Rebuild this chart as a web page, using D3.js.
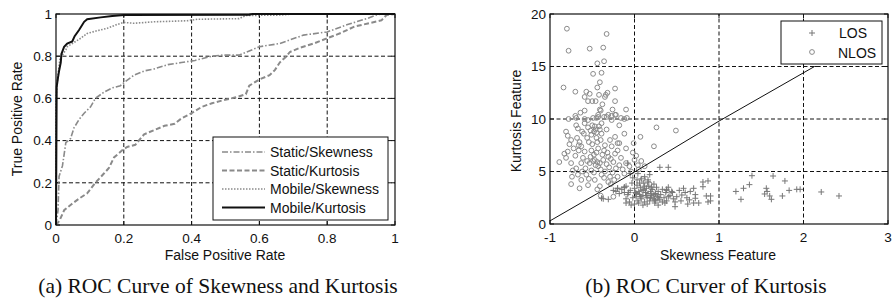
<!DOCTYPE html>
<html>
<head>
<meta charset="utf-8">
<title>ROC and feature scatter</title>
<script src="https://cdn.jsdelivr.net/npm/d3@7"></script>
<style>
  body { margin: 0; background: #fff; }
  svg { display: block; }
  .tick-label { font-family: "Liberation Sans", Arial, sans-serif; font-size: 13.5px; fill: #111; }
  .axis-title { font-family: "Liberation Sans", Arial, sans-serif; font-size: 14px; fill: #111; }
  .legend-text { font-family: "Liberation Sans", Arial, sans-serif; font-size: 14px; fill: #111; }
  .caption { font-family: "Liberation Serif", "Times New Roman", serif; font-size: 21.5px; fill: #111; }
</style>
</head>
<body>
<script>
// ---- data ----

// (a) ROC curves, [false positive rate, true positive rate]
var staticSkewness = [[0,0],[0.006,0.07],[0.009,0.23],[0.019,0.28],[0.029,0.39],[0.043,0.41],[0.053,0.46],
  [0.068,0.50],[0.083,0.53],[0.102,0.56],[0.116,0.60],[0.142,0.63],[0.166,0.65],[0.19,0.66],[0.205,0.68],
  [0.23,0.71],[0.26,0.73],[0.29,0.74],[0.33,0.76],[0.37,0.77],[0.41,0.78],[0.46,0.80],[0.49,0.805],
  [0.54,0.805],[0.60,0.845],[0.66,0.86],[0.73,0.90],[0.80,0.915],[0.86,0.95],[0.92,0.98],[0.945,0.995],[0.96,1],[1,1]];
var staticKurtosis = [[0,0],[0.01,0.02],[0.024,0.07],[0.043,0.095],[0.068,0.125],[0.092,0.15],[0.116,0.20],
  [0.142,0.245],[0.156,0.27],[0.171,0.32],[0.196,0.355],[0.21,0.37],[0.234,0.38],[0.26,0.43],[0.29,0.45],
  [0.32,0.47],[0.35,0.48],[0.37,0.505],[0.40,0.53],[0.43,0.56],[0.46,0.577],[0.49,0.59],[0.53,0.605],
  [0.56,0.62],[0.57,0.66],[0.60,0.69],[0.63,0.71],[0.646,0.735],[0.66,0.77],[0.68,0.80],[0.69,0.82],
  [0.72,0.84],[0.76,0.86],[0.80,0.885],[0.84,0.91],[0.88,0.94],[0.92,0.955],[0.96,0.97],[0.975,0.995],[1,1]];
var mobileSkewness = [[0,0],[0,0.6],[0.005,0.7],[0.012,0.79],[0.029,0.83],[0.033,0.845],[0.058,0.87],
  [0.073,0.885],[0.092,0.908],[0.122,0.921],[0.151,0.932],[0.176,0.948],[0.2,0.96],[0.23,0.956],
  [0.289,0.963],[0.387,0.968],[0.417,0.975],[0.54,0.978],[0.56,0.993],[0.66,0.995],[0.7,1],[1,1]];
var mobileKurtosis = [[0,0],[0.002,0.655],[0.006,0.70],[0.009,0.73],[0.014,0.77],[0.016,0.81],[0.024,0.845],
  [0.033,0.86],[0.048,0.87],[0.055,0.895],[0.068,0.924],[0.083,0.963],[0.092,0.975],[0.132,0.984],
  [0.166,0.99],[0.2,0.995],[0.57,0.997],[0.58,1],[1,1]];

var rocNames = ["Static/Skewness", "Static/Kurtosis", "Mobile/Skewness", "Mobile/Kurtosis"];
var rocTicks = [0, 0.2, 0.4, 0.6, 0.8, 1];

// (b) feature scatter, [skewness, kurtosis]
var nlosPoints = [[-0.80,18.6],[-0.33,18.1],[-0.78,16.5],[-0.53,16.7],[-0.37,16.8],[-0.44,15.3],[-0.36,15.5],
  [-0.49,14.3],[-0.39,14.4],[-0.41,13.5],[-0.84,13.0],[-0.70,12.6],[-0.44,13.0],[-0.57,12.6],[-0.53,12.4],
  [-0.32,12.5],[-0.34,12.3],[-0.35,12.1],[-0.23,12.9],[-0.59,12.1],[-0.55,11.7],[-0.50,11.7],[-0.46,11.7],
  [-0.42,12.3],[-0.38,11.4],[-0.23,11.7],[-0.64,10.6],[-0.59,10.8],[-0.41,10.9],[-0.40,10.8],[-0.26,10.9],
  [-0.10,10.9],[-0.22,10.4],[-0.31,10.4],[-0.70,10.3],[-0.69,10.1],[-0.78,10.0],[-0.59,10.0],[-0.45,10.1],
  [-0.43,10.2],[-0.36,10.2],[-0.27,10.3],[-0.16,10.1],[-0.09,10.1],[-0.69,9.4],[-0.67,9.1],[-0.59,9.6],
  [-0.55,9.9],[-0.49,10.1],[-0.43,10.4],[-0.39,9.6],[-0.33,10.2],[-0.27,9.9],[-0.23,10.4],[-0.18,9.4],
  [-0.12,10.0],[0.26,9.2],[0.49,8.9],[-0.81,8.8],[-0.79,8.4],[-0.75,8.0],[-0.77,7.6],[-0.65,7.8],[-0.66,7.5],
  [-0.63,7.4],[-0.60,8.6],[-0.51,8.5],[-0.45,8.2],[-0.39,8.6],[-0.33,9.0],[-0.29,8.0],[-0.23,8.3],[-0.18,7.7],
  [-0.12,8.6],[-0.20,7.0],[-0.10,7.2],[0.07,8.3],[-0.01,7.7],[0.23,7.4],[-0.89,5.9],[-0.83,6.7],[-0.79,6.9],
  [-0.81,6.3],[-0.75,5.8],[-0.73,5.1],[-0.69,5.3],[-0.74,4.5],[-0.67,4.7],[-0.75,3.8],[-0.63,4.2],[-0.65,3.4],
  [-0.55,3.7],[-0.57,4.7],[-0.51,5.1],[-0.43,5.5],[-0.47,6.1],[-0.37,6.1],[-0.31,6.4],[-0.25,5.9],[-0.23,6.7],
  [-0.16,6.3],[-0.10,5.8],[-0.06,5.5],[0.00,6.1],[0.04,5.6],[-0.04,5.0],[-0.12,4.8],[-0.20,4.5],[-0.31,4.0],
  [-0.41,3.6],[-0.47,4.2],[-0.39,4.7],[-0.53,5.8],[-0.61,6.3],[-0.63,5.8],[-0.59,6.9],[-0.51,7.0],[-0.43,7.2],
  [-0.35,7.5],[-0.27,7.4],[-0.20,7.7],[-0.55,9.2],[-0.50,9.4],[-0.46,9.0],[-0.42,9.3],[-0.48,8.8],[-0.44,7.8],
  [-0.40,8.0],[-0.36,7.0],[-0.32,6.8],[-0.28,6.2],[-0.48,6.6],[-0.52,6.4],[-0.56,6.0],[-0.44,5.9],[-0.40,5.2],
  [-0.35,5.0],[-0.30,5.4],[-0.26,4.9],[-0.22,5.3],[-0.18,5.6],[-0.14,5.2],[-0.58,5.3],[-0.62,5.0],[-0.54,4.3],
  [-0.48,4.9],[-0.36,4.4],[-0.28,3.8],[-0.24,4.2],[-0.44,3.3],[-0.70,6.5],[-0.66,7.0],[-0.72,7.2],[-0.68,8.2],
  [-0.56,8.2],[-0.62,8.8],[0.02,6.5],[0.08,6.0],[0.12,5.5],[0.05,5.2],[-0.02,6.8],[0.10,4.3],[0.18,3.8],
  [0.22,3.1],[0.16,2.7],[0.26,2.5],[-0.40,2.7],[-0.25,2.6],[-0.46,5.6],[-0.50,7.6],[-0.38,6.6],[-0.54,7.8],
  [-0.47,9.3],[-0.45,8.7],[-0.41,9.0],[-0.52,8.9],[-0.49,6.0],[-0.45,6.8],[-0.41,5.8],[-0.33,5.7],[-0.29,4.5]];

var losPoints = [[-0.08,5.8],[0.30,5.4],[0.40,5.4],[0.04,4.8],[0.12,4.5],[0.16,4.2],[0.18,4.7],[-0.05,4.8],
  [-0.25,3.2],[-0.20,3.4],[-0.12,3.5],[-0.37,2.4],[-0.31,2.35],[-0.39,2.45],[-0.10,2.0],[-0.04,1.8],
  [0.38,3.2],[0.40,2.6],[0.36,2.0],[0.48,1.65],[0.53,3.2],[0.58,3.4],[0.56,2.76],[0.62,2.5],[0.70,3.4],
  [0.72,2.8],[0.81,3.55],[0.81,4.0],[0.87,4.1],[0.70,2.0],[0.76,2.0],[0.85,2.67],[0.90,2.67],[0.87,2.1],
  [0.90,2.2],[0.72,2.45],[0.24,2.0],[0.48,2.1],[0.38,3.3],[1.20,3.1],[1.26,2.35],[1.29,3.4],[1.36,3.75],
  [1.39,4.6],[1.56,3.4],[1.57,3.1],[1.54,2.86],[1.60,2.67],[1.62,2.35],[1.64,4.57],[1.75,2.67],[1.78,4.1],
  [1.83,3.2],[1.92,3.3],[1.96,3.3],[2.21,3.05],[2.42,2.67],
  [-0.15,3.3],[-0.12,3.0],[-0.10,3.6],[-0.08,2.8],[-0.05,3.2],[-0.03,3.9],[-0.02,2.5],[0.00,3.4],[0.01,3.0],
  [0.02,2.6],[0.03,3.7],[0.04,2.2],[0.05,3.1],[0.06,2.8],[0.07,3.5],[0.08,2.4],[0.09,3.2],[0.10,2.7],
  [0.11,3.9],[0.12,2.1],[0.13,3.0],[0.14,3.4],[0.15,2.5],[0.16,2.9],[0.17,3.6],[0.18,2.2],[0.19,3.1],
  [0.20,2.7],[0.21,3.3],[0.22,2.4],[0.23,3.8],[0.24,2.3],[0.25,2.9],[0.26,3.5],[0.27,2.6],[0.28,3.1],
  [0.30,2.3],[0.31,2.8],[0.33,3.3],[0.35,2.5],[0.37,3.0],[0.38,2.2],[0.40,3.5],[0.42,2.7],[0.44,3.1],
  [0.46,2.4],[-0.06,2.1],[0.00,1.9],[0.03,4.2],[0.06,3.9],[0.08,4.3],[-0.02,4.4],[0.12,3.6],[0.16,4.0],
  [0.20,3.5],[0.05,2.0],[0.10,1.8],[0.15,1.9],[0.25,2.2],[0.28,1.8],[-0.10,2.4],[-0.18,2.9],[-0.22,3.1],
  [-0.20,3.4],[-0.12,3.5],[0.45,3.0],[0.50,2.6],[0.55,2.2],[0.60,3.0],[0.65,2.3],[0.66,3.1],[0.63,1.9],
  [-0.07,3.0],[0.02,2.9],[0.07,2.6],[0.11,3.3],[0.14,2.7],[0.19,2.5],[0.23,2.8],[0.29,2.5],[0.33,2.1]];

// decision line
var boundaryX = [-1, 0, 1, 2.13, 2.2];
var boundaryY = [0.3, 4.95, 9.8, 15, 15];

var skewTicks = [-1, 0, 1, 2, 3];
var kurtTicks = [0, 5, 10, 15, 20];

// ---- drawing ----
var W = 892, H = 302;
var gray = "#8a8a8a";

var svg = d3.select("body").append("svg")
  .attr("width", W).attr("height", H);
svg.append("rect").attr("width", W).attr("height", H).attr("fill", "#fff");

// draw a MATLAB-like axes box with dashed grid, inward ticks and labels
function drawFrame(g, x, y, xt, yt) {
  var x0 = x.range()[0], x1 = x.range()[1];
  var y0 = y.range()[0], y1 = y.range()[1];
  // grid
  g.selectAll(".gx").data(xt.slice(1, -1)).enter().append("line")
    .attr("x1", d => x(d)).attr("x2", d => x(d)).attr("y1", y0).attr("y2", y1)
    .attr("stroke", "#111").attr("stroke-width", 1).attr("stroke-dasharray", "4,2.5");
  g.selectAll(".gy").data(yt.slice(1, -1)).enter().append("line")
    .attr("y1", d => y(d)).attr("y2", d => y(d)).attr("x1", x0).attr("x2", x1)
    .attr("stroke", "#111").attr("stroke-width", 1).attr("stroke-dasharray", "4,2.5");
  // ticks inside, on all four sides
  xt.forEach(function(d) {
    g.append("line").attr("x1", x(d)).attr("x2", x(d)).attr("y1", y0).attr("y2", y0 - 4).attr("stroke", "#111");
    g.append("line").attr("x1", x(d)).attr("x2", x(d)).attr("y1", y1).attr("y2", y1 + 4).attr("stroke", "#111");
  });
  yt.forEach(function(d) {
    g.append("line").attr("y1", y(d)).attr("y2", y(d)).attr("x1", x0).attr("x2", x0 + 4).attr("stroke", "#111");
    g.append("line").attr("y1", y(d)).attr("y2", y(d)).attr("x1", x1).attr("x2", x1 - 4).attr("stroke", "#111");
  });
  // tick labels
  g.selectAll(".xl").data(xt).enter().append("text")
    .attr("class", "tick-label").attr("x", d => x(d)).attr("y", y0 + 18)
    .attr("text-anchor", "middle").text(d => d);
  g.selectAll(".yl").data(yt).enter().append("text")
    .attr("class", "tick-label").attr("x", x0 - 4).attr("y", d => y(d)).attr("dy", "0.36em")
    .attr("text-anchor", "end").text(d => d);
}

function drawBox(g, x, y) {
  g.append("rect")
    .attr("x", x.range()[0]).attr("y", y.range()[1])
    .attr("width", x.range()[1] - x.range()[0]).attr("height", y.range()[0] - y.range()[1])
    .attr("fill", "none").attr("stroke", "#111").attr("stroke-width", 1.2);
}

// ---------- (a) ROC ----------
var xa = d3.scaleLinear().domain([0, 1]).range([56, 395]);
var ya = d3.scaleLinear().domain([0, 1]).range([225, 14]);
var ga = svg.append("g");
drawFrame(ga, xa, ya, rocTicks, rocTicks);

var rocSeries = [staticSkewness, staticKurtosis, mobileSkewness, mobileKurtosis];
var rocStyle = [
  { stroke: gray, width: 1.6, dash: "6,2,1.5,2" },
  { stroke: gray, width: 2, dash: "5,2.5" },
  { stroke: gray, width: 1.6, dash: "1.5,1.5" },
  { stroke: "#111", width: 2, dash: null }
];
var rocLine = d3.line().x(d => xa(d[0])).y(d => ya(d[1]));
rocSeries.forEach(function(s, i) {
  ga.append("path").datum(s).attr("d", rocLine)
    .attr("fill", "none").attr("stroke", rocStyle[i].stroke)
    .attr("stroke-width", rocStyle[i].width)
    .attr("stroke-dasharray", rocStyle[i].dash);
});
drawBox(ga, xa, ya);

// legend
var lga = ga.append("g").attr("transform", "translate(213,137)");
lga.append("rect").attr("width", 175).attr("height", 83)
  .attr("fill", "#fff").attr("stroke", "#111").attr("stroke-width", 1);
rocNames.forEach(function(n, i) {
  var yy = 15 + i * 18.5;
  lga.append("line").attr("x1", 9).attr("x2", 52).attr("y1", yy).attr("y2", yy)
    .attr("stroke", rocStyle[i].stroke).attr("stroke-width", rocStyle[i].width)
    .attr("stroke-dasharray", rocStyle[i].dash);
  lga.append("text").attr("class", "legend-text").attr("x", 57).attr("y", yy).attr("dy", "0.36em").text(n);
});

ga.append("text").attr("class", "axis-title").attr("x", 225).attr("y", 260)
  .attr("text-anchor", "middle").text("False Positive Rate");
ga.append("text").attr("class", "axis-title")
  .attr("transform", "translate(22,119) rotate(-90)")
  .attr("text-anchor", "middle").text("True Positive Rate");
ga.append("text").attr("class", "caption").attr("x", 218).attr("y", 293)
  .attr("text-anchor", "middle").text("(a) ROC Curve of Skewness and Kurtosis");

// ---------- (b) scatter ----------
var xb = d3.scaleLinear().domain([-1, 3]).range([550, 888]);
var yb = d3.scaleLinear().domain([0, 20]).range([224, 14]);
var gb = svg.append("g");
drawFrame(gb, xb, yb, skewTicks, kurtTicks);

gb.selectAll(".nlos").data(nlosPoints).enter().append("circle")
  .attr("cx", d => xb(d[0])).attr("cy", d => yb(d[1])).attr("r", 2.4)
  .attr("fill", "none").attr("stroke", gray).attr("stroke-width", 1);

gb.selectAll(".los").data(losPoints).enter().append("path")
  .attr("transform", d => "translate(" + xb(d[0]) + "," + yb(d[1]) + ")")
  .attr("d", "M-3,0H3M0,-3V3")
  .attr("stroke", "#777").attr("stroke-width", 1).attr("fill", "none");

var boundary = boundaryX.map((v, i) => [v, boundaryY[i]]);
gb.append("path").datum(boundary)
  .attr("d", d3.line().x(d => xb(d[0])).y(d => yb(d[1])))
  .attr("fill", "none").attr("stroke", "#111").attr("stroke-width", 1);
drawBox(gb, xb, yb);

// legend
var lgb = gb.append("g").attr("transform", "translate(781,21)");
lgb.append("rect").attr("width", 101).attr("height", 43)
  .attr("fill", "#fff").attr("stroke", "#111").attr("stroke-width", 1);
lgb.append("path").attr("transform", "translate(31,12)").attr("d", "M-3,0H3M0,-3V3")
  .attr("stroke", "#777").attr("fill", "none");
lgb.append("circle").attr("cx", 31).attr("cy", 31).attr("r", 2.4)
  .attr("fill", "none").attr("stroke", gray);
lgb.append("text").attr("class", "legend-text").attr("x", 58).attr("y", 12).attr("dy", "0.36em").text("LOS");
lgb.append("text").attr("class", "legend-text").attr("x", 57).attr("y", 32).attr("dy", "0.36em").text("NLOS");

gb.append("text").attr("class", "axis-title").attr("x", 718).attr("y", 260)
  .attr("text-anchor", "middle").text("Skewness Feature");
gb.append("text").attr("class", "axis-title")
  .attr("transform", "translate(521,121) rotate(-90)")
  .attr("text-anchor", "middle").text("Kurtosis Feature");
gb.append("text").attr("class", "caption").attr("x", 706).attr("y", 293)
  .attr("text-anchor", "middle").text("(b) ROC Curver of Kurtosis");
</script>
</body>
</html>
